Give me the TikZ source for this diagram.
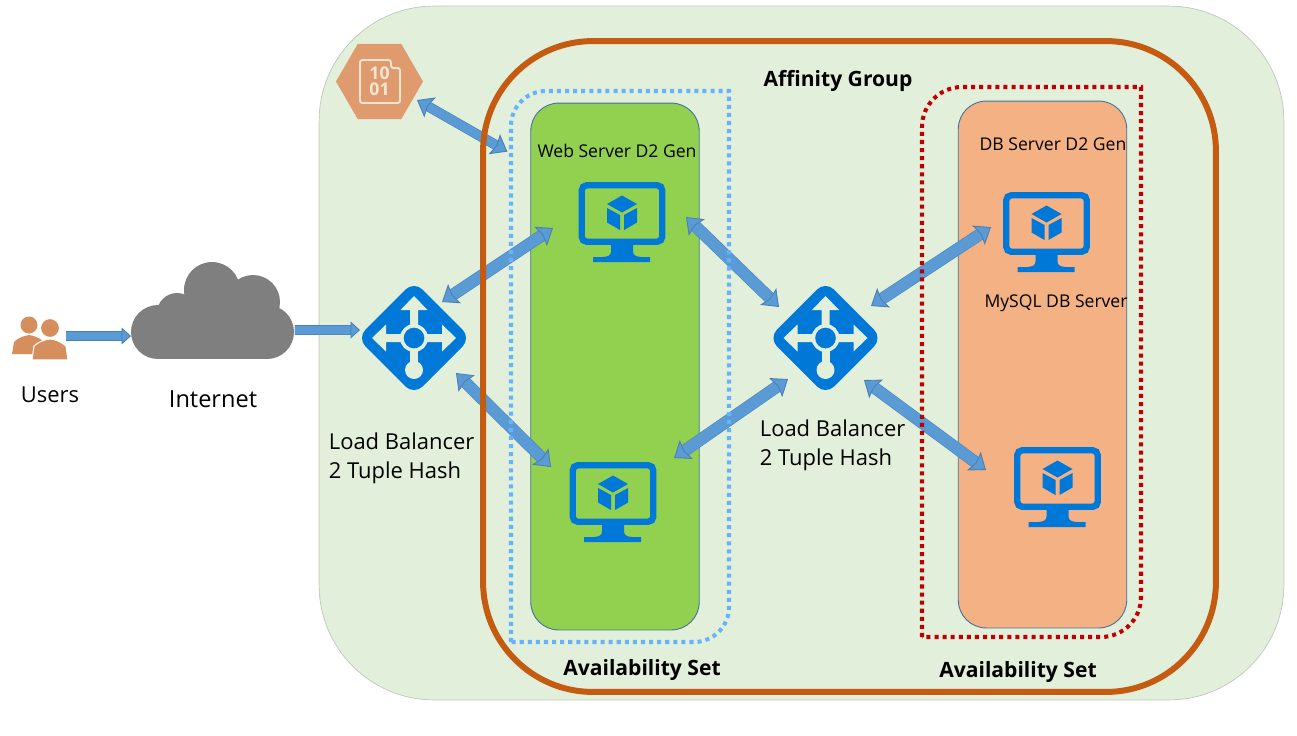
\documentclass[tikz,border=0pt]{standalone}
\usepackage{fontspec}
\setmainfont{Open Sans}
\usepackage{xcolor}
\definecolor{zonegreen}{HTML}{E2EFDA}
\definecolor{zoneedge}{HTML}{BFC7BB}
\definecolor{rust}{HTML}{C55A11}
\definecolor{webgreen}{HTML}{92D050}
\definecolor{dbsalmon}{HTML}{F4B183}
\definecolor{paneledge}{HTML}{41719C}
\definecolor{skydots}{HTML}{66B2FF}
\definecolor{reddots}{HTML}{C00000}
\definecolor{azure}{HTML}{0078D7}
\definecolor{arrowblue}{HTML}{5B9BD5}
\definecolor{arrowedge}{HTML}{4A80B4}
\definecolor{cloudgray}{HTML}{7F7F7F}
\definecolor{peach}{HTML}{D68F5C}
\definecolor{hexpeach}{HTML}{DF9B6D}
\definecolor{hexlight}{HTML}{F5E6D3}
\usetikzlibrary{arrows.meta,positioning,calc,shapes.geometric}
\tikzset{
  zone/.style={draw=zoneedge, fill=zonegreen, rounded corners=2.3cm, minimum width=19.3cm, minimum height=13.88cm, inner sep=0pt},
  affinity/.style={draw=rust, line width=3.4pt, rounded corners=2.2cm, minimum width=14.66cm, minimum height=13.02cm, inner sep=0pt},
  panel/.style={draw=paneledge, line width=0.5pt, fill=#1, rounded corners=0.56cm, minimum width=3.37cm, minimum height=10.54cm, inner sep=0pt},
  availset/.style={draw=#1, line width=2.3pt, dash pattern=on 2.3pt off 2.3pt},
  vmframe/.style={draw=azure, line width=3.6pt, rounded corners=0.1cm, minimum width=1.61cm, minimum height=1.13cm, inner sep=0pt},
  lbdiamond/.style={diamond, fill=azure, rounded corners=0.24cm, minimum width=2.28cm, minimum height=2.28cm, inner sep=0pt, outer sep=0pt},
  hexicon/.style={regular polygon, regular polygon sides=6, fill=hexpeach, minimum size=1.74cm, inner sep=0pt, outer sep=0pt},
  anchorbox/.style={minimum width=#1, inner sep=0pt, outer sep=0pt},
  blocktip/.tip={Stealth[length=0.3cm, width=0.46cm, inset=0.05cm, line width=0.5pt, color=arrowedge, fill=arrowblue]},
  blockhead/.tip={Stealth[length=0.19cm, width=0.34cm, inset=0pt, line width=0.5pt, color=arrowedge, fill=arrowblue]},
  twoway/.style={blocktip-blocktip, draw=arrowblue, line width=0.22cm,
    preaction={draw=arrowedge, line width=0.22cm+0.6pt, arrows=-, shorten >=0.24cm, shorten <=0.24cm}},
  thinway/.style={blocktip-blocktip, draw=arrowblue, line width=0.18cm,
    preaction={draw=arrowedge, line width=0.18cm+0.6pt, arrows=-, shorten >=0.24cm, shorten <=0.24cm}},
  oneway/.style={-blockhead, draw=arrowblue, line width=0.17cm,
    preaction={draw=arrowedge, line width=0.17cm+0.6pt, arrows=-, shorten >=0.17cm}},
  biglabel/.style={font=\fontsize{12.5}{16.4}\selectfont, align=left, inner sep=0pt},
  smalllabel/.style={font=\fontsize{10}{12}\selectfont, inner sep=0pt},
  boldlabel/.style={font=\fontsize{12}{14}\selectfont\bfseries, inner sep=0pt},
}
\newcommand{\vmicon}[2]{%
  \node[vmframe] (#1) at (#2) {};
  \begin{scope}[shift={(#2)}]
    \fill[azure] (-11,31) -- (11,31) -- (11,38) .. controls (11,42) and (14,43) .. (19,43.5) -- (28,43.5) -- (28,48.5) -- (-29,48.5) -- (-29,43.5) -- (-19,43.5) .. controls (-14,43) and (-11,42) .. (-11,38) -- cycle;
    \fill[azure] (0,-18) -- (15,-9.5) -- (0,-1) -- (-15,-9.5) -- cycle;
    \fill[azure] (-15,-5.5) -- (-2,1.5) -- (-2,16.5) -- (-15,9) -- cycle;
    \fill[azure] (15,-5.5) -- (2,1.5) -- (2,16.5) -- (15,9) -- cycle;
  \end{scope}}
\newcommand{\lbicon}[2]{%
  \node[lbdiamond] (#1) at (#2) {};
  \begin{scope}[shift={(#2)}]
    \foreach \turn in {0,90,-90}
      \fill[zonegreen, rotate=\turn] (-4,-10) -- (-4,-28) -- (-13.5,-28) -- (0,-42) -- (13.5,-28) -- (4,-28) -- (4,-10) -- cycle;
    \fill[zonegreen] (-4,8) rectangle (4,28);
    \fill[zonegreen] (0,32) circle (9);
    \fill[zonegreen] (0,0) circle (14);
    \fill[azure] (0,0) circle (10.3);
  \end{scope}}

\begin{document}
\begin{tikzpicture}[x=0.02cm, y=-0.02cm]
  \useasboundingbox (0,0) rectangle (1297,735);

  % backdrop and the two server columns
  \node[zone] (region) at (801.5,353) {};
  \node[panel=webgreen] (webpanel) at (615,366.5) {};
  \node[panel=dbsalmon] (dbpanel) at (1042.5,364.5) {};

  % users and cloud
  \node[anchorbox=1.12cm, minimum height=0.92cm] (users) at (38,336) {};
  \fill[peach] (29,325) circle (8.5);
  \fill[peach] (12,354) -- (14,342) .. controls (19,337) and (24,336) .. (29,335) .. controls (34,336) and (39,337) .. (44,342) -- (44,354) -- cycle;
  \fill[peach, draw=white, line width=0.6pt] (32,360) -- (34,346) .. controls (40,341) and (45,339.5) .. (50,339) .. controls (55,339.5) and (60,341) .. (66,346) -- (68,360) -- cycle;
  \fill[white] (30,360) rectangle (70,362);
  \fill[peach, draw=white, line width=0.6pt] (50,328) circle (9.5);
  \node[anchorbox=3.26cm, minimum height=1.94cm] (internet) at (212.5,310.5) {};
  \foreach \lobex/\lobey/\rad in {158/332/27, 267/332/27, 212/290/28, 253/302/27, 177/313/20}
    \fill[cloudgray] (\lobex,\lobey) circle (\rad);
  \fill[cloudgray] (158,320) rectangle (267,359);
  \fill[cloudgray] (175,300) rectangle (262,330);

  % icons
  \node[hexicon] (storage) at (379.5,81.5) {};
  \draw[hexlight, line width=1.1pt, rounded corners=0.05cm] (360,60) -- (391,60) -- (391,68) -- (400,68) -- (400,103) -- (360,103) -- cycle;
  \node[font=\fontsize{10}{9.2}\selectfont\bfseries, text=hexlight, align=center, inner sep=0pt] (bits) at (379.5,81.5) {10\\01};
  \lbicon{lbleft}{414,338}
  \lbicon{lbright}{825.5,338}
  \vmicon{webone}{622,213.5}
  \vmicon{webtwo}{613,493.5}
  \vmicon{dbone}{1046.5,223.5}
  \vmicon{dbtwo}{1057.5,478.5}

  % connectors
  \draw[oneway] (users.east) -- (users.east -| internet.west);
  \draw[oneway] ([shift={(1,19.5)}]internet.east) -- ([shift={(3,-8)}]lbleft.west);
  \draw[thinway] ([shift={(37.5,18.5)}]storage.center) -- ([shift={(-23,49)}]webpanel.north west);
  \draw[twoway] ([shift={(28,-36)}]lbleft.center) -- ([shift={(-69,14.5)}]webone.center);
  \draw[twoway] ([shift={(42,35)}]lbleft.center) -- ([shift={(-62,-26.5)}]webtwo.center);
  \draw[twoway] ([shift={(64,3.5)}]webone.center) -- ([shift={(-46.5,-31)}]lbright.center);
  \draw[twoway] ([shift={(61,-35.5)}]webtwo.center) -- ([shift={(-37.5,41)}]lbright.center);
  \draw[twoway] ([shift={(45.5,-32)}]lbright.center) -- ([shift={(-55.5,3.5)}]dbone.center);
  \draw[twoway] ([shift={(38.5,42)}]lbright.center) -- ([shift={(-71.5,-8.5)}]dbtwo.center);

  % frames go over the connectors
  \node[affinity] (group) at (849.5,366.5) {};
  \draw[availset=skydots] (511,642) [rounded corners=0.7cm] -- (511,91) [sharp corners] -- (729,91) [rounded corners=0.7cm] -- (729,642) [sharp corners] -- (511,642) -- cycle;
  \draw[availset=reddots] (922,637) [rounded corners=0.8cm] -- (922,87) [sharp corners] -- (1141,87) [rounded corners=0.8cm] -- (1141,637) [sharp corners] -- (922,637) -- cycle;

  % labels
  \node[biglabel] (userstxt) at (50,395) {Users};
  \node[biglabel, font=\fontsize{13.4}{16.4}\selectfont] (nettxt) at (213,399) {Internet};
  \node[biglabel, anchor=west] (lblefttxt) at (328.5,458) {Load Balancer\\2 Tuple Hash};
  \node[biglabel, anchor=west] (lbrighttxt) at (759.5,445) {Load Balancer\\2 Tuple Hash};
  \node[boldlabel] (grouptxt) at (838,81) {Affinity Group};
  \node[smalllabel] (webtxt) at (617,151) {Web Server D2 Gen};
  \node[smalllabel] (dbtxt) at (1053,144) {DB Server D2 Gen};
  \node[smalllabel] (mysqltxt) at (1056,303) {MySQL DB Server};
  \node[boldlabel] (webset) at (642,670) {Availability Set};
  \node[boldlabel] (dbset) at (1018,672) {Availability Set};
\end{tikzpicture}
\end{document}
